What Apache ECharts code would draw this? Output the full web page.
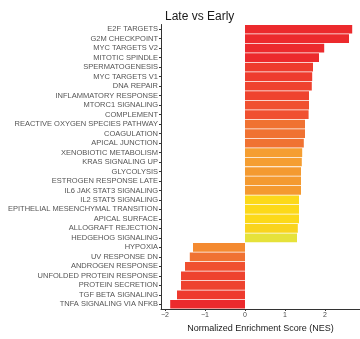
<!DOCTYPE html>
<html>
<head>
<meta charset="utf-8">
<script src="https://cdn.jsdelivr.net/npm/echarts@6/dist/echarts.min.js"></script>
<style>
  html, body { margin: 0; padding: 0; background: #fff; }
  #chart { width: 360px; height: 339px; }
</style>
</head>
<body>
<div id="chart"></div>
<script>
// Hallmark gene sets, top to bottom
const pathways = [
  "E2F TARGETS", "G2M CHECKPOINT", "MYC TARGETS V2", "MITOTIC SPINDLE",
  "SPERMATOGENESIS", "MYC TARGETS V1", "DNA REPAIR", "INFLAMMATORY RESPONSE",
  "MTORC1 SIGNALING", "COMPLEMENT", "REACTIVE OXYGEN SPECIES PATHWAY",
  "COAGULATION", "APICAL JUNCTION", "XENOBIOTIC METABOLISM", "KRAS SIGNALING UP",
  "GLYCOLYSIS", "ESTROGEN RESPONSE LATE", "IL6 JAK STAT3 SIGNALING",
  "IL2 STAT5 SIGNALING", "EPITHELIAL MESENCHYMAL TRANSITION", "APICAL SURFACE",
  "ALLOGRAFT REJECTION", "HEDGEHOG SIGNALING", "HYPOXIA", "UV RESPONSE DN",
  "ANDROGEN RESPONSE", "UNFOLDED PROTEIN RESPONSE", "PROTEIN SECRETION",
  "TGF BETA SIGNALING", "TNFA SIGNALING VIA NFKB"
];

// Normalized enrichment scores
const nes = [
  2.68, 2.60, 1.98, 1.85,
  1.70, 1.68, 1.67, 1.60,
  1.60, 1.59, 1.50,
  1.50, 1.47, 1.43, 1.42,
  1.40, 1.40, 1.40,
  1.35, 1.35, 1.35,
  1.32, 1.30, -1.30, -1.38,
  -1.50, -1.60, -1.60,
  -1.70, -1.87
];

// Bar fill colours (significance scale, red to yellow)
const barColors = [
  "#ec2a2d", "#ec2a2d", "#ec2a2d", "#ec2a2d",
  "#ee3c2e", "#ee3c2e", "#ef432f", "#ef432f",
  "#f05030", "#f05030", "#f07232",
  "#f07232", "#f07232", "#f59e31", "#f59e31",
  "#f49a30", "#f49a30", "#f49a30",
  "#fcd91a", "#fcd91a", "#fcd91a",
  "#f9d41e", "#e6e23a", "#f48a30", "#f07232",
  "#f05030", "#ee432f", "#ee432f",
  "#ee3a2e", "#ec2a2d"
];

const xTicks = [-2, -1, 0, 1, 2];

const chart = echarts.init(document.getElementById('chart'), null, { renderer: 'canvas' });

const fontFam = '"Liberation Sans", Arial, sans-serif';

chart.setOption({
  animation: false,
  backgroundColor: '#ffffff',
  title: {
    text: 'Late vs Early',
    left: 160,
    top: 6,
    textStyle: { fontFamily: fontFam, fontSize: 12, fontWeight: 'normal', color: '#1a1a1a' }
  },
  grid: { left: 161, right: 0, top: 24.5, bottom: 30, containLabel: false },
  xAxis: {
    type: 'value',
    min: -2.1,
    max: 2.875,
    interval: 1,
    name: 'Normalized Enrichment Score (NES)',
    nameLocation: 'middle',
    nameGap: 13,
    nameTextStyle: { fontFamily: fontFam, fontSize: 9, color: '#1a1a1a' },
    axisLine: { show: true, onZero: false, lineStyle: { color: '#333333', width: 1 } },
    axisTick: {
      show: true, length: 2, lineStyle: { color: '#333333' },
      customValues: xTicks
    },
    axisLabel: {
      fontFamily: fontFam, fontSize: 7, color: '#4d4d4d', margin: 3,
      customValues: xTicks,
      formatter: v => (v < 0 ? '\u2212' + Math.abs(v) : String(v))
    },
    splitLine: { show: false }
  },
  yAxis: {
    type: 'category',
    data: pathways,
    inverse: true,
    axisLine: { show: true, onZero: false, lineStyle: { color: '#333333', width: 1 } },
    axisTick: { show: true, length: 2, alignWithLabel: true, lineStyle: { color: '#333333' } },
    axisLabel: {
      fontFamily: fontFam, fontSize: 7.5, color: '#555555', margin: 3, interval: 0
    }
  },
  series: [{
    type: 'bar',
    data: nes.map((v, i) => ({ value: v, itemStyle: { color: barColors[i] } })),
    barWidth: '92%',
    silent: true
  }]
});
</script>
</body>
</html>
